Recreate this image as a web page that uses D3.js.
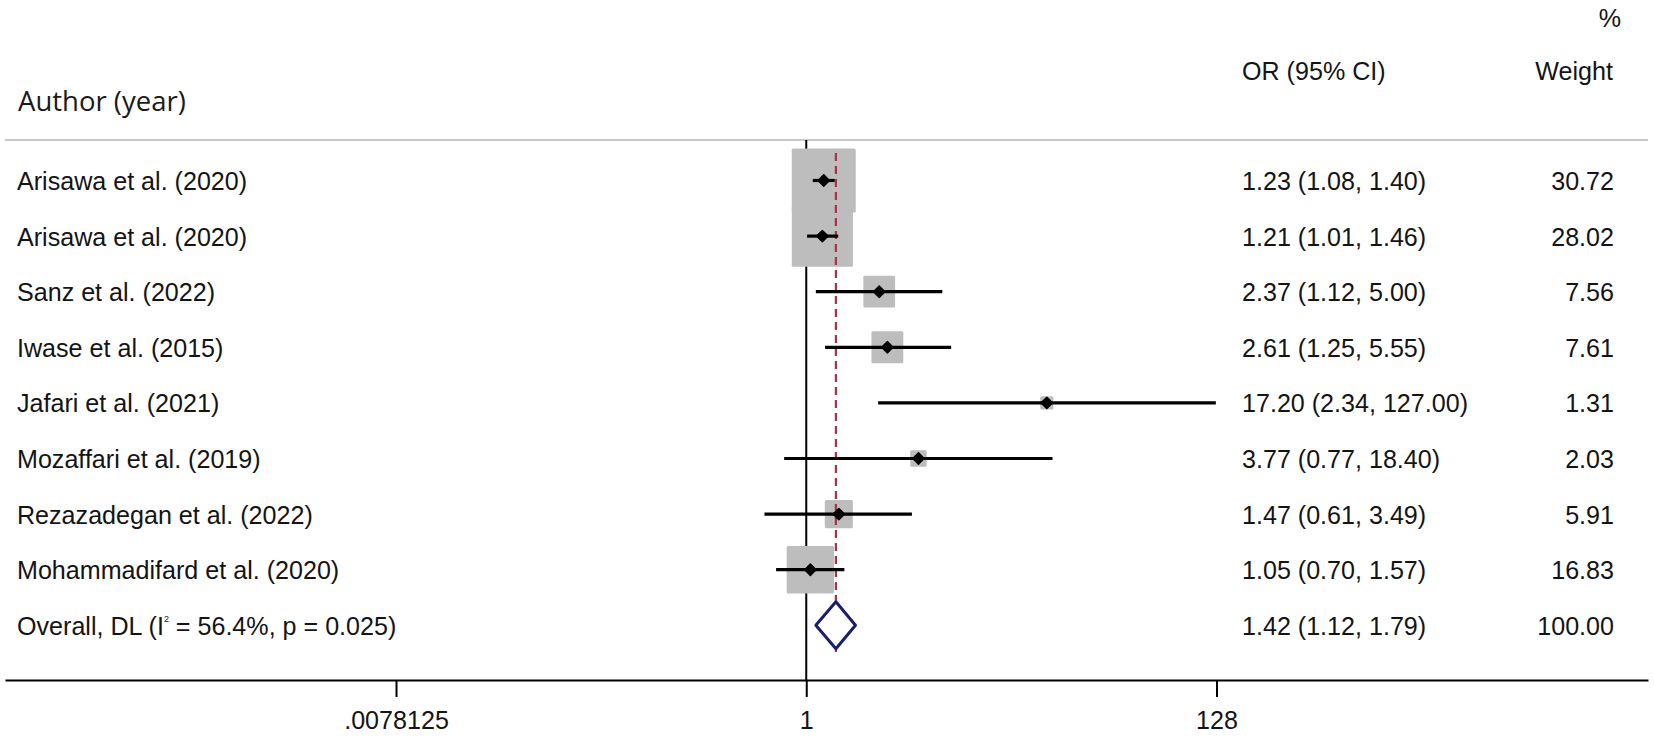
<!DOCTYPE html>
<html>
<head>
<meta charset="utf-8">
<script src="https://cdn.jsdelivr.net/npm/d3@7"></script>
<style>
  html, body { margin: 0; padding: 0; background: #fff; }
  svg { display: block; }
  text { font-family: "Liberation Sans", Arial, sans-serif; fill: #141414; }
</style>
</head>
<body>
<svg id="chart" width="1654" height="737"></svg>
<script>
// ---- data ----
const studies = ["Arisawa et al. (2020)", "Arisawa et al. (2020)", "Sanz et al. (2022)", "Iwase et al. (2015)",
  "Jafari et al. (2021)", "Mozaffari et al. (2019)", "Rezazadegan et al. (2022)", "Mohammadifard et al. (2020)"];
const orValues = [1.23, 1.21, 2.37, 2.61, 17.20, 3.77, 1.47, 1.05];
const ciLower  = [1.08, 1.01, 1.12, 1.25, 2.34, 0.77, 0.61, 0.70];
const ciUpper  = [1.40, 1.46, 5.00, 5.55, 127.00, 18.40, 3.49, 1.57];
const weights  = [30.72, 28.02, 7.56, 7.61, 1.31, 2.03, 5.91, 16.83];
const overall = { label: "Overall, DL", i2: "56.4%", p: "0.025", or: 1.42, lo: 1.12, hi: 1.79, weight: 100.00 };
const tickValues = [0.0078125, 1, 128];
const tickLabels = [".0078125", "1", "128"];

// ---- layout ----
const svg = d3.select("#chart");
const x = d3.scaleLog().base(2).domain([1 / 128, 128]).range([396, 1216.5]);
const y = d3.scaleLinear().domain([0, 1]).range([180.5, 236.1]);
const boxSide = d3.scaleSqrt().domain([0, 30.72]).range([0, 64]);
const f2 = d3.format(".2f");
const axisY = 680;
const leftX = 5, rightX = 1648;
const fs = "25.1px";
const tOff = 9.5;

// header separator
svg.append("line").attr("x1", leftX).attr("x2", rightX).attr("y1", 140).attr("y2", 140)
  .attr("stroke", "#c9c9c9").attr("stroke-width", 2);

// headers
svg.append("text").attr("x", 18).attr("y", 111).text("Author (year)")
  .style("font-family", "'Open Sans', sans-serif").style("font-size", "27.5px").style("fill", "#1a1a1a");
svg.append("text").attr("x", 1242).attr("y", 80).text("OR (95% CI)").style("font-size", fs);
svg.append("text").attr("x", 1613).attr("y", 80).attr("text-anchor", "end").text("Weight").style("font-size", fs);
svg.append("text").attr("x", 1621).attr("y", 27).attr("text-anchor", "end").text("%").style("font-size", fs);

// null line at 1
svg.append("line").attr("x1", x(1)).attr("x2", x(1)).attr("y1", 140).attr("y2", axisY)
  .attr("stroke", "#000").attr("stroke-width", 2);

// weight boxes
const data = studies.map((s, i) => ({ s, or: orValues[i], lo: ciLower[i], hi: ciUpper[i], w: weights[i], i }));
svg.append("g").selectAll("rect").data(data).join("rect")
  .attr("x", d => x(d.or) - boxSide(d.w) / 2)
  .attr("y", d => y(d.i) - boxSide(d.w) / 2)
  .attr("width", d => boxSide(d.w))
  .attr("height", d => boxSide(d.w))
  .attr("rx", 1.5)
  .attr("fill", "#bdbdbd");

// overall dashed line
svg.append("line").attr("x1", x(overall.or)).attr("x2", x(overall.or))
  .attr("y1", 153).attr("y2", 652)
  .attr("stroke", "#a83246").attr("stroke-width", 2.2).attr("stroke-dasharray", "8,5");

// CI lines
svg.append("g").selectAll("line").data(data).join("line")
  .attr("x1", d => x(d.lo)).attr("x2", d => x(d.hi))
  .attr("y1", d => y(d.i)).attr("y2", d => y(d.i))
  .attr("stroke", "#000").attr("stroke-width", 3.2);

// point markers (rotated squares)
svg.append("g").selectAll("path").data(data).join("path")
  .attr("transform", d => `translate(${x(d.or)},${y(d.i)}) rotate(45)`)
  .attr("d", d3.symbol(d3.symbolSquare, 64))
  .attr("fill", "#000").attr("stroke", "#000").attr("stroke-width", 1.5).attr("stroke-linejoin", "round");

// overall diamond
const oy = y(studies.length);
const dh = 23.5;
svg.append("path")
  .attr("d", `M${x(overall.lo)},${oy} L${x(overall.or)},${oy - dh} L${x(overall.hi)},${oy} L${x(overall.or)},${oy + dh} Z`)
  .attr("fill", "#fff").attr("stroke", "#1b1f6b").attr("stroke-width", 3).attr("stroke-linejoin", "round");

// row labels
svg.append("g").selectAll("text").data(data).join("text")
  .attr("x", 17).attr("y", d => y(d.i) + tOff)
  .style("font-size", fs).text(d => d.s);
svg.append("g").selectAll("text").data(data).join("text")
  .attr("x", 1242).attr("y", d => y(d.i) + tOff)
  .style("font-size", fs).text(d => `${f2(d.or)} (${f2(d.lo)}, ${f2(d.hi)})`);
svg.append("g").selectAll("text").data(data).join("text")
  .attr("x", 1614).attr("y", d => y(d.i) + tOff).attr("text-anchor", "end")
  .style("font-size", fs).text(d => f2(d.w));

// overall row text
const ot = svg.append("text").attr("x", 17).attr("y", oy + tOff).style("font-size", fs);
ot.append("tspan").text(`${overall.label} (I`);
ot.append("tspan").attr("dy", -13).style("font-size", "9px").text("2");
ot.append("tspan").attr("dy", 13).text(` = ${overall.i2}, p = ${overall.p})`);
svg.append("text").attr("x", 1242).attr("y", oy + tOff).style("font-size", fs)
  .text(`${f2(overall.or)} (${f2(overall.lo)}, ${f2(overall.hi)})`);
svg.append("text").attr("x", 1614).attr("y", oy + tOff).attr("text-anchor", "end").style("font-size", fs)
  .text(f2(overall.weight));

// x axis
const xAxisScale = x.copy().domain([x.invert(leftX), x.invert(rightX)]).range([leftX, rightX]);
const axis = d3.axisBottom(xAxisScale)
  .tickValues(tickValues)
  .tickFormat((d, i) => tickLabels[i])
  .tickSize(17).tickSizeOuter(0).tickPadding(14);
const ga = svg.append("g").attr("transform", `translate(0,${axisY})`).call(axis);
ga.select(".domain").attr("stroke", "#000").attr("stroke-width", 2);
ga.selectAll(".tick line").attr("stroke", "#000").attr("stroke-width", 2);
ga.selectAll(".tick text").style("font-family", "'Liberation Sans', Arial, sans-serif")
  .style("font-size", fs).attr("fill", "#141414");
</script>
</body>
</html>
